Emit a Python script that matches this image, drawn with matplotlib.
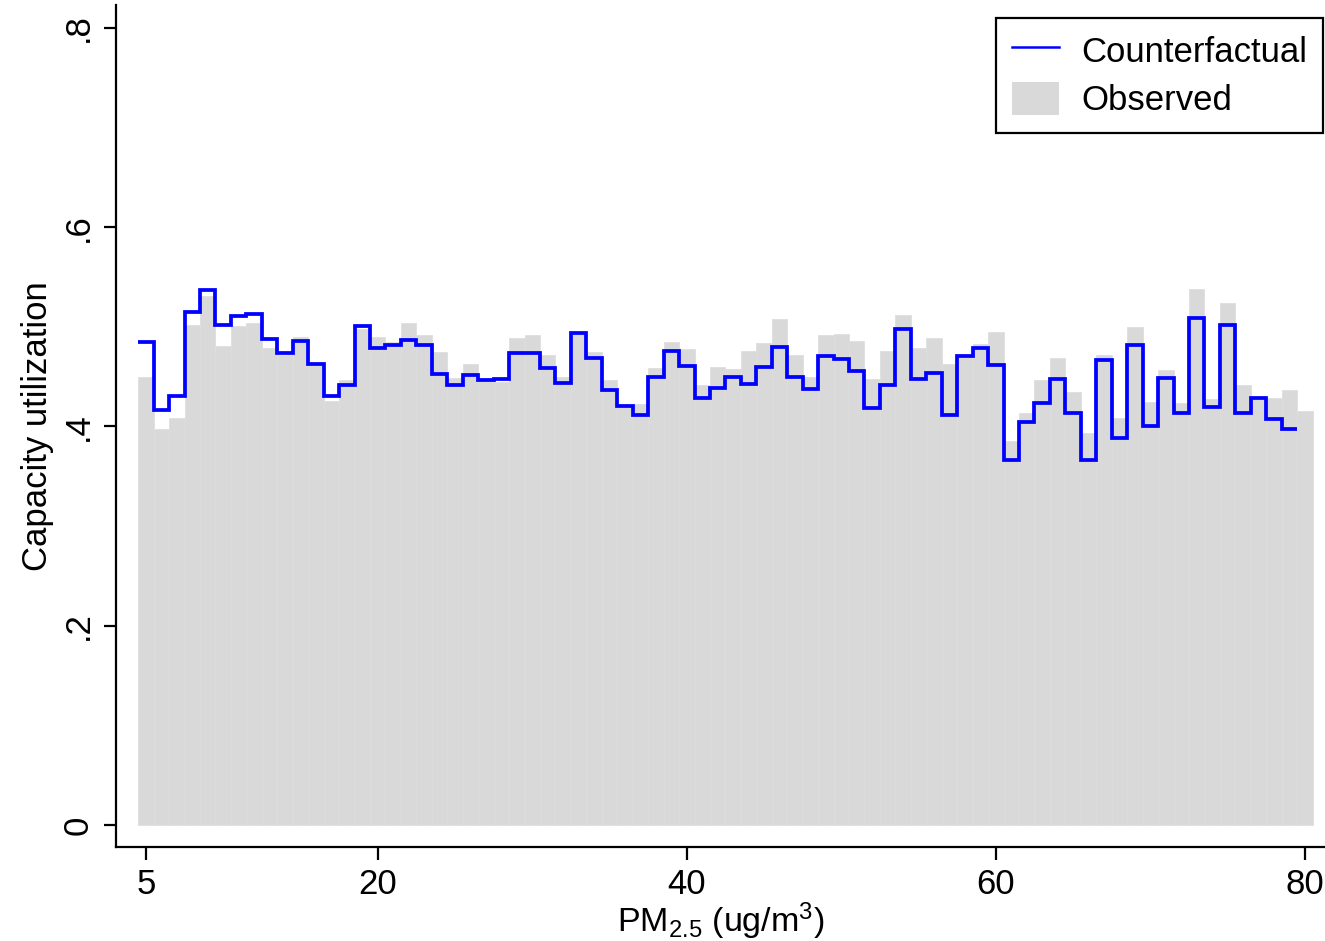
import numpy as np
import matplotlib
matplotlib.use("Agg")
import matplotlib.pyplot as plt
from matplotlib.patches import Patch
from matplotlib.lines import Line2D

# ---------------------------- data ---------------------------- #
pm_bins = list(range(5, 81))  # 5..80 ug/m3
observed = [0.450, 0.397, 0.408, 0.502, 0.531, 0.481, 0.501, 0.504, 0.479, 0.472,
            0.490, 0.463, 0.426, 0.447, 0.498, 0.490, 0.485, 0.504, 0.492, 0.475,
            0.449, 0.463, 0.448, 0.445, 0.489, 0.492, 0.472, 0.450, 0.495, 0.475,
            0.447, 0.420, 0.423, 0.459, 0.485, 0.478, 0.442, 0.460, 0.458, 0.476,
            0.484, 0.508, 0.472, 0.450, 0.492, 0.493, 0.486, 0.448, 0.476, 0.512,
            0.479, 0.489, 0.463, 0.470, 0.483, 0.495, 0.385, 0.413, 0.447, 0.469,
            0.435, 0.393, 0.472, 0.408, 0.500, 0.425, 0.457, 0.424, 0.538, 0.428,
            0.524, 0.442, 0.430, 0.429, 0.437, 0.415]
cf_bins = list(range(5, 80))  # 5..79
counterfactual = [0.485, 0.416, 0.431, 0.515, 0.537, 0.502, 0.511, 0.513, 0.488, 0.474,
                  0.486, 0.463, 0.431, 0.442, 0.501, 0.479, 0.482, 0.487, 0.482, 0.453,
                  0.442, 0.452, 0.447, 0.448, 0.474, 0.474, 0.459, 0.444, 0.494, 0.469,
                  0.437, 0.421, 0.411, 0.450, 0.476, 0.461, 0.429, 0.439, 0.450, 0.443,
                  0.460, 0.480, 0.450, 0.438, 0.471, 0.468, 0.456, 0.419, 0.442, 0.498,
                  0.448, 0.454, 0.411, 0.471, 0.479, 0.462, 0.366, 0.404, 0.424, 0.448,
                  0.413, 0.366, 0.467, 0.388, 0.482, 0.400, 0.449, 0.413, 0.509, 0.420,
                  0.502, 0.413, 0.429, 0.407, 0.397]
x_ticks = [5, 20, 40, 60, 80]
y_ticks = [0, 0.2, 0.4, 0.6, 0.8]
y_ticklabels = ["0", ".2", ".4", ".6", ".8"]
# -------------------------------------------------------------- #

plt.rcParams['font.family'] = ['Liberation Sans', 'DejaVu Sans']
plt.rcParams['mathtext.default'] = 'regular'

fig = plt.figure(figsize=(13.25, 9.41), dpi=100)
ax = fig.add_axes([0.0875, 0.0999, 0.9125, 0.8948])

ax.bar(pm_bins, observed, width=1.0, color='#d9d9d9', edgecolor='#dedede',
       linewidth=0.6, zorder=1)
edges = np.append(np.array(cf_bins) - 0.5, cf_bins[-1] + 0.5)
ax.stairs(counterfactual, edges, color='#0000ff', linewidth=2.7, baseline=None, zorder=2)

ax.set_xlim(3.06, 81.3)
ax.set_ylim(-0.0221, 0.823)
ax.set_xticks(x_ticks)
ax.set_yticks(y_ticks)
ax.set_yticklabels(y_ticklabels, rotation=90, va='center')
ax.tick_params(axis='both', labelsize=25, length=9, width=1.6, direction='out', pad=6)
for s in ['top', 'right']:
    ax.spines[s].set_visible(False)
for s in ['left', 'bottom']:
    ax.spines[s].set_linewidth(1.6)

ax.set_ylabel('Capacity utilization', fontsize=25, labelpad=6)
ax.set_xlabel('PM$_{2.5}$ (ug/m$^3$)', fontsize=24.5, labelpad=0)

handles = [Line2D([0], [0], color='#0000ff', linewidth=1.8),
           Patch(facecolor='#d9d9d9', edgecolor='none')]
leg = ax.legend(handles, ['Counterfactual', 'Observed'], loc='upper right',
                bbox_to_anchor=(0.9985, 0.985), borderaxespad=0, fontsize=25,
                frameon=True, fancybox=False, edgecolor='black', framealpha=1,
                handlelength=1.35, handleheight=1.1, borderpad=0.45, labelspacing=0.37,
                handletextpad=0.65)
leg.get_frame().set_linewidth(1.6)

fig.savefig('out.png', dpi=100)
